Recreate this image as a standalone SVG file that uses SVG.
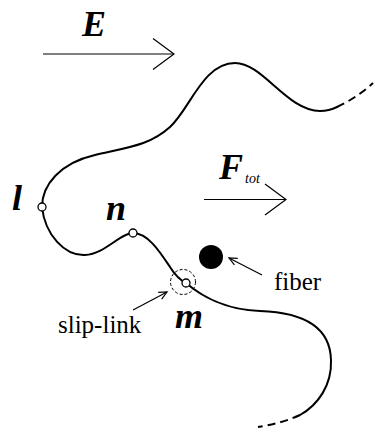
<svg xmlns="http://www.w3.org/2000/svg" width="375" height="435" viewBox="0 0 375 435">
<style>
.chain{fill:none;stroke:#000;stroke-width:2;stroke-linecap:round}
.dash{stroke-dasharray:8,5;stroke-linecap:butt}
.arr{fill:none;stroke:#000;stroke-width:1.2}
.bead{fill:#fff;stroke:#000;stroke-width:1.3}
.sym{font-family:"Liberation Serif","Times New Roman",serif;font-style:italic;font-weight:bold;font-size:36px;fill:#000}
.sub{font-family:"Liberation Serif","Times New Roman",serif;font-style:italic;font-size:14px;fill:#000}
.lbl{font-family:"Liberation Serif","Times New Roman",serif;font-size:25px;fill:#000}
</style>
<defs>
<marker id="small" markerUnits="userSpaceOnUse" markerWidth="12" markerHeight="12" viewBox="-10 -6 12 12" refX="0" refY="0" orient="auto">
<path d="M-8,-3.7 L0,0 L-8,3.7" fill="none" stroke="#000" stroke-width="1.2"/>
</marker>
<marker id="big" markerUnits="userSpaceOnUse" markerWidth="26" markerHeight="36" viewBox="-23 -18 26 36" refX="0" refY="0" orient="auto">
<path d="M-21,-15.5 L0,0 L-21,15.5" fill="none" stroke="#000" stroke-width="1.2"/>
</marker>
</defs>
<g id="connectors">
<path id="chain-upper" class="chain" d="M42,207 C42,185 60,163 95,155 S150,145 170,127 S203,63 235,63 C263,63 287,111 320,111 C328,111 333,109 337,107"/>
<path id="chain-upper-dash" class="chain dash" d="M337,107 C350,101 362,93 373,83"/>
<path id="chain-lower" class="chain" d="M42,207 C45,235 65,256 85,255 C105,254 120,233 133,233 C148,233 160,252 170,267 C175,275 180,280 186,283 C200,295 225,310 260,311 C290,312 330,320 331,360 C332,385 318,405 300,415"/>
<path id="chain-lower-dash" class="chain dash" d="M300,415 C285,422 270,425 258,427"/>
<line id="arrow-E" class="arr" x1="43" y1="54" x2="174" y2="54" marker-end="url(#big)"/>
<line id="arrow-F" class="arr" x1="204" y1="199.5" x2="286" y2="199.5" marker-end="url(#big)"/>
<line id="arrow-fiber" class="arr" x1="262" y1="275" x2="229" y2="258" marker-end="url(#small)"/>
<line id="arrow-slip" class="arr" x1="133" y1="310" x2="167" y2="292" marker-end="url(#small)"/>
</g>
<g id="label-E"><text class="sym" x="82" y="36">E</text></g>
<g id="label-F"><text class="sym" x="219" y="179">F</text><text class="sub" x="245" y="183">tot</text></g>
<g id="node-l"><circle class="bead" cx="42" cy="207" r="4"/><text class="sym" x="12" y="210">l</text></g>
<g id="node-n"><circle class="bead" cx="133" cy="233" r="4"/><text class="sym" x="106" y="220">n</text></g>
<g id="node-m"><circle cx="183" cy="282" r="12.5" fill="none" stroke="#000" stroke-width="1" stroke-dasharray="3,2"/><circle class="bead" cx="186" cy="283" r="4"/><text class="sym" x="175" y="328">m</text></g>
<g id="node-fiber"><circle cx="211" cy="257" r="12" fill="#000"/><text class="lbl" x="274" y="290">fiber</text></g>
<g id="label-slip"><text class="lbl" x="58" y="333">slip-link</text></g>
</svg>
